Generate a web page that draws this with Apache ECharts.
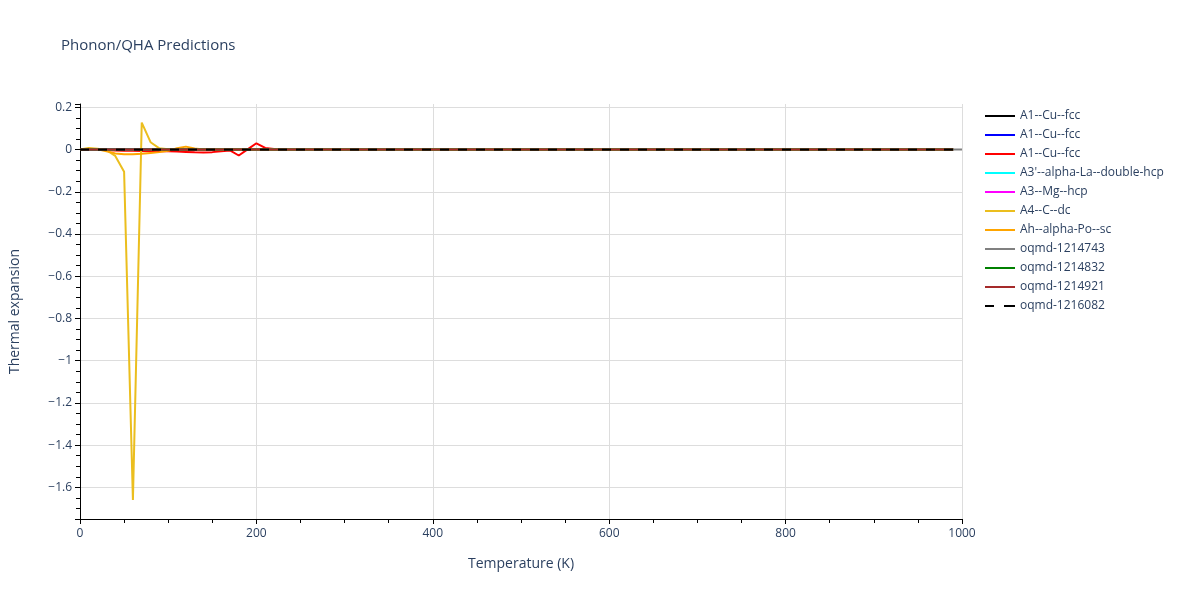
<!DOCTYPE html>
<html>
<head>
<meta charset="utf-8">
<script src="https://cdn.jsdelivr.net/npm/echarts@6/dist/echarts.min.js"></script>
<style>
  html, body { margin: 0; padding: 0; background: #fff; }
  #chart { width: 1200px; height: 600px; }
</style>
</head>
<body>
<div id="chart"></div>
<script>
// series names, in plotting order
const seriesNames = [
  "A1--Cu--fcc", "A1--Cu--fcc", "A1--Cu--fcc", "A3'--alpha-La--double-hcp",
  "A3--Mg--hcp", "A4--C--dc", "Ah--alpha-Po--sc", "oqmd-1214743",
  "oqmd-1214832", "oqmd-1214921", "oqmd-1216082"
];
const seriesColors = [
  "#000000", "#0000ff", "#ff0000", "#00ffff", "#ff00ff", "#ebbe1e",
  "#ffa500", "#808080", "#008000", "#a52a2a", "#000000"
];

// [temperature K, thermal expansion]
const cuFcc1 = [[0, 0], [990, 0]];
const cuFcc2 = [[0, 0], [990, 0]];
const cuFcc3 = [
  [0, 0], [20, 0], [30, -0.002], [40, -0.004], [50, -0.005], [60, -0.006],
  [70, -0.007], [80, -0.008], [90, -0.008], [100, -0.008], [110, -0.009],
  [120, -0.011], [130, -0.013], [140, -0.014], [150, -0.012], [160, -0.008],
  [170, -0.004], [180, -0.028], [190, 0.001], [200, 0.03], [210, 0.008],
  [220, 0.003], [230, 0], [990, 0]
];
const laDhcp = [[0, 0], [990, 0]];
const mgHcp = [[0, 0], [990, 0]];
const cDc = [
  [0, 0], [10, 0.008], [20, 0.004], [30, -0.003], [40, -0.03], [50, -0.105],
  [60, -1.66], [70, 0.128], [80, 0.035], [90, 0.006], [100, 0.002],
  [110, 0], [990, 0]
];
const poSc = [
  [0, 0], [10, 0.004], [20, 0.002], [30, -0.008], [40, -0.018], [50, -0.022],
  [60, -0.022], [70, -0.02], [80, -0.016], [90, -0.012], [100, -0.006],
  [110, 0.006], [120, 0.014], [130, 0.005], [140, 0], [990, 0]
];
const oqmd1214743 = [[0, 0], [1000, 0]];
const oqmd1214832 = [[0, 0], [990, 0]];
const oqmd1214921 = [[0, 0], [990, 0]];
const oqmd1216082 = [[0, 0], [990, 0]];

const allData = [cuFcc1, cuFcc2, cuFcc3, laDhcp, mgHcp, cDc, poSc,
  oqmd1214743, oqmd1214832, oqmd1214921, oqmd1216082];

const textColor = "#2a3f5f";
const fontFamily = '"Open Sans", verdana, arial, sans-serif';
const solidIcon = "path://M0,0H30V2H0Z";
const dashIcon = "path://M0,0H9V2H0Z M19,0H30V2H19Z";

const chart = echarts.init(document.getElementById("chart"));

const option = {
  animation: false,
  textStyle: { fontFamily: fontFamily },
  title: {
    text: "Phonon/QHA Predictions",
    left: 56,
    top: 33,
    textStyle: { fontSize: 15, fontWeight: "normal", color: textColor, fontFamily: fontFamily },
  },
  legend: {
    orient: "vertical",
    left: 980,
    top: 105,
    itemWidth: 30,
    itemHeight: 2,
    itemGap: 7,
    textStyle: { fontSize: 12, color: textColor, fontFamily: fontFamily },
    data: seriesNames.map((name, i) => ({
      name: name + "\u200b".repeat(i),
      icon: i === 10 ? dashIcon : solidIcon,
    })),
  },
  grid: { left: 80, right: 238, top: 104, bottom: 81 },
  xAxis: {
    type: "value",
    min: 0,
    max: 1000,
    interval: 200,
    name: "Temperature (K)",
    nameLocation: "middle",
    nameGap: 38,
    nameTextStyle: { fontSize: 14, color: textColor },
    axisLine: { show: true, onZero: false, lineStyle: { color: "#000", width: 1 } },
    axisTick: { show: true, length: 5, lineStyle: { color: "#000" } },
    minorTick: { show: true, splitNumber: 4, length: 4, lineStyle: { color: "#000" } },
    axisLabel: { fontSize: 12, color: textColor, margin: 9, formatter: (v) => String(v) },
    splitLine: { show: true, lineStyle: { color: "#dddddd" } },
  },
  yAxis: {
    type: "value",
    min: -1.75,
    max: 0.216,
    splitNumber: 10,
    name: "Thermal expansion",
    nameLocation: "middle",
    nameGap: 58,
    nameTextStyle: { fontSize: 14, color: textColor },
    axisLine: { show: true, lineStyle: { color: "#000", width: 1 } },
    axisTick: { show: true, length: 5, lineStyle: { color: "#000" } },
    minorTick: { show: true, splitNumber: 4, length: 4, lineStyle: { color: "#000" } },
    axisLabel: {
      fontSize: 12,
      color: textColor,
      margin: 8,
      showMinLabel: false,
      showMaxLabel: false,
      formatter: (v) => String(Math.round(v * 100) / 100).replace("-", "\u2212"),
    },
    splitLine: {
      show: true,
      lineStyle: {
        color: ["transparent", "#dddddd", "#dddddd", "#dddddd", "#dddddd", "#dddddd",
          "#dddddd", "#dddddd", "#dddddd", "#dddddd", "#dddddd", "transparent"],
      },
    },
  },
  series: allData.map((data, i) => ({
    name: seriesNames[i] + "\u200b".repeat(i),
    type: "line",
    data: data,
    showSymbol: false,
    symbol: "none",
    color: seriesColors[i],
    lineStyle: {
      width: 2,
      color: seriesColors[i],
      type: i === 10 ? [9, 9] : "solid",
    },
  })),
};

chart.setOption(option);
</script>
</body>
</html>
